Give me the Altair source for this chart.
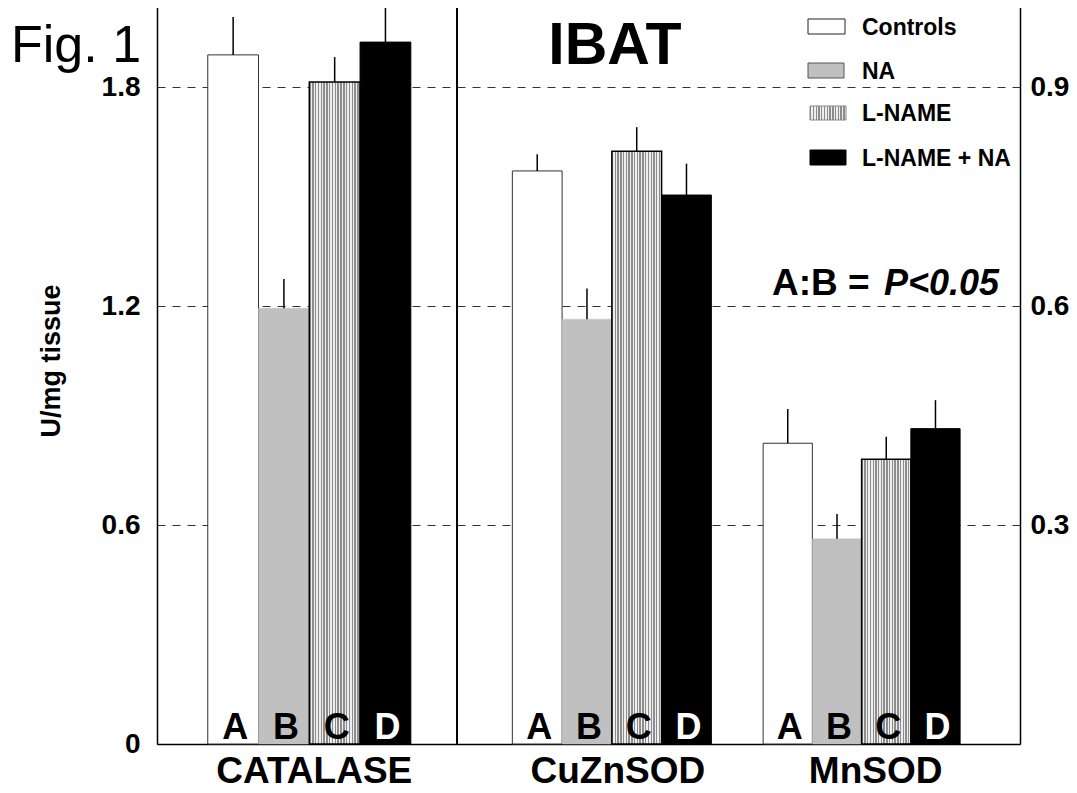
import altair as alt
import pandas as pd

# ---------------- data ----------------
groups = ["CATALASE", "CuZnSOD", "MnSOD"]
treatments = ["Controls", "NA", "L-NAME", "L-NAME + NA"]
letters = ["A", "B", "C", "D"]
# Catalase on the left axis (U/mg tissue)
catalase_mean = [1.888, 1.194, 1.814, 1.923]
catalase_err = [0.104, 0.080, 0.068, 0.104]
# CuZnSOD and MnSOD on the right axis
cuznsod_mean = [0.785, 0.582, 0.812, 0.752]
cuznsod_err = [0.023, 0.042, 0.033, 0.043]
mnsod_mean = [0.412, 0.281, 0.390, 0.432]
mnsod_err = [0.047, 0.034, 0.031, 0.039]
left_ticks = [0, 0.6, 1.2, 1.8]
right_ticks = [0.3, 0.6, 0.9]

# ---------------- layout (not data) ----------------
RIGHT_FACTOR = 2.0            # left-axis units per right-axis unit
YMAX = 744 / 365.0
N_SLOTS = 17
group_start = [1.0, 7.0, 11.94]
bar_w = [1.0, 0.98, 0.97]
divider_x = 5.91
label_dx = [5, 6, 14]
W, H = 863, 744
FONT = "Liberation Sans"

means = [catalase_mean, cuznsod_mean, mnsod_mean]
errs = [catalase_err, cuznsod_err, mnsod_err]
factors = [1.0, RIGHT_FACTOR, RIGHT_FACTOR]

rows = []
for gi, g in enumerate(groups):
    for i, t in enumerate(treatments):
        x0 = group_start[gi] + i * bar_w[gi]
        v = means[gi][i] * factors[gi]
        rows.append(dict(group=g, treatment=t, letter=letters[i],
                         x0=x0, x1=x0 + bar_w[gi], xc=x0 + bar_w[gi] / 2,
                         val=v, top=v + errs[gi][i] * factors[gi], zero=0.0))
df = pd.DataFrame(rows)

glab = pd.DataFrame({
    "group": groups,
    "xc": [group_start[i] + 2 * bar_w[i] for i in range(3)],
})

xs = alt.Scale(domain=[0, N_SLOTS], nice=False, zero=False)
ys = alt.Scale(domain=[0, YMAX], nice=False, zero=True)


def stripes(n, dark="#8c8c8c", light="#eeeeee"):
    stops = []
    for k in range(n):
        a, b, c = k / n, (k + 0.5) / n, (k + 1) / n
        stops += [
            alt.GradientStop(offset=a, color=dark),
            alt.GradientStop(offset=b, color=dark),
            alt.GradientStop(offset=b, color=light),
            alt.GradientStop(offset=c, color=light),
        ]
    return alt.LinearGradient(gradient="linear", stops=stops, x1=0, x2=1, y1=0, y2=0)


fills = ["white", "#c0c0c0", stripes(18), "black"]
strokes = ["#333333", "#c0c0c0", "black", "black"]
stroke_w = [1, 0.5, 1.5, 1]
legend_fills = ["white", "#c0c0c0", stripes(13), "black"]
legend_strokes = ["#222222", "#555555", "#888888", "black"]

layers = []

# left axis + grid (and bottom x axis)
left_axis = alt.Chart(pd.DataFrame({"v": left_ticks})).mark_point(opacity=0).encode(
    x=alt.X(datum=0, scale=xs,
            axis=alt.Axis(labels=False, ticks=False, grid=False, domainColor="black",
                          domainWidth=1.5, title=None)),
    y=alt.Y("v:Q", scale=ys, title=None,
            axis=alt.Axis(values=left_ticks, ticks=False, domainColor="black", domainWidth=1.5,
                          grid=True, gridColor="#333333", gridDash=[8, 7], gridWidth=1,
                          labelExpr="datum.value == 0 ? '0' : format(datum.value, '.1f')",
                          labelFont=FONT, labelFontSize=28, labelFontWeight="bold",
                          labelColor="black", labelPadding=17)),
)
layers.append(left_axis)

right_axis = alt.Chart(pd.DataFrame({"v": [t * RIGHT_FACTOR for t in right_ticks]})).mark_point(opacity=0).encode(
    y=alt.Y("v:Q", scale=ys, title=None,
            axis=alt.Axis(orient="right", values=[t * RIGHT_FACTOR for t in right_ticks],
                          ticks=False, grid=False, domainColor="black", domainWidth=1.5,
                          labelExpr="format(datum.value / 2, '.1f')",
                          labelFont=FONT, labelFontSize=28, labelFontWeight="bold",
                          labelColor="black", labelPadding=10)),
)
layers.append(right_axis)

# bars
for i, t in enumerate(treatments):
    layers.append(
        alt.Chart(df).transform_filter(alt.datum.treatment == t).mark_rect(
            fill=fills[i], stroke=strokes[i], strokeWidth=stroke_w[i]
        ).encode(
            x=alt.X("x0:Q", scale=xs, axis=None),
            x2="x1:Q",
            y=alt.Y("val:Q", scale=ys, axis=None),
            y2="zero:Q",
        )
    )

# error bars
layers.append(
    alt.Chart(df).mark_rule(color="black", strokeWidth=1.5).encode(
        x=alt.X("xc:Q", scale=xs, axis=None),
        y=alt.Y("val:Q", scale=ys, axis=None),
        y2="top:Q",
    )
)

# letters in bars
for cond, col in [(alt.datum.letter != "D", "black"), (alt.datum.letter == "D", "white")]:
    layers.append(
        alt.Chart(df).transform_filter(cond).mark_text(
            font=FONT, fontSize=36, fontWeight="bold", color=col,
            baseline="alphabetic", align="center", dx=2,
        ).encode(
            x=alt.X("xc:Q", scale=xs, axis=None),
            y=alt.value(739),
            text="letter:N",
        )
    )

# group labels
for gi in range(3):
    layers.append(
        alt.Chart(glab.iloc[[gi]]).mark_text(
            font=FONT, fontSize=37, fontWeight="bold", color="black",
            baseline="alphabetic", align="center", dx=label_dx[gi],
        ).encode(
            x=alt.X("xc:Q", scale=xs, axis=None),
            y=alt.value(783),
            text="group:N",
        )
    )

# divider
layers.append(
    alt.Chart(pd.DataFrame({"d": [divider_x]})).mark_rule(color="black", strokeWidth=2).encode(
        x=alt.X("d:Q", scale=xs, axis=None),
        y=alt.value(0),
        y2=alt.value(H),
    )
)

# annotations
def txt(s, x, y, size, weight="bold", style="normal", align="left", baseline="alphabetic", angle=0):
    kw = dict(font=FONT, fontSize=size, fontWeight=weight, fontStyle=style, color="black",
              align=align, baseline=baseline, text=s)
    if angle:
        kw["angle"] = angle
    return alt.Chart(pd.DataFrame({"a": [0]})).mark_text(**kw).encode(
        x=alt.value(x), y=alt.value(y))

layers.append(txt("Fig. 1", -146, 62, 52, weight="normal"))
layers.append(txt("IBAT", 458, 64, 59, align="center"))
layers.append(txt("A:B =", 615, 295, 37))
layers.append(txt("P<0.05", 727, 295, 36, style="italic"))
layers.append(txt("U/mg tissue", -105, 361, 27, align="center", baseline="middle", angle=270))

# legend
leg_y = [26.5, 70.5, 113, 157.5]
leg_x0 = [651, 651, 653, 653]
leg_x1 = [688, 687, 689, 689]
leg_h = [15, 15, 14, 15]
for i, t in enumerate(treatments):
    layers.append(
        alt.Chart(pd.DataFrame({"a": [0]})).mark_rect(
            fill=legend_fills[i], stroke=legend_strokes[i], strokeWidth=1
        ).encode(
            x=alt.value(leg_x0[i]), x2=alt.value(leg_x1[i]),
            y=alt.value(leg_y[i] - leg_h[i] / 2), y2=alt.value(leg_y[i] + leg_h[i] / 2),
        )
    )
    layers.append(txt(t, 705, leg_y[i] + 1, 23, baseline="middle"))

chart = alt.layer(*layers).resolve_scale(x="shared", y="shared").resolve_axis(
    x="independent", y="independent"
).properties(
    width=W, height=H,
    padding={"left": 149, "top": -8, "right": 49, "bottom": 50},
    autosize=alt.AutoSizeParams(type="none"),
    background="white",
).configure_view(stroke=None)

chart.save("out.html", embed_options={"renderer": "svg", "actions": False})
